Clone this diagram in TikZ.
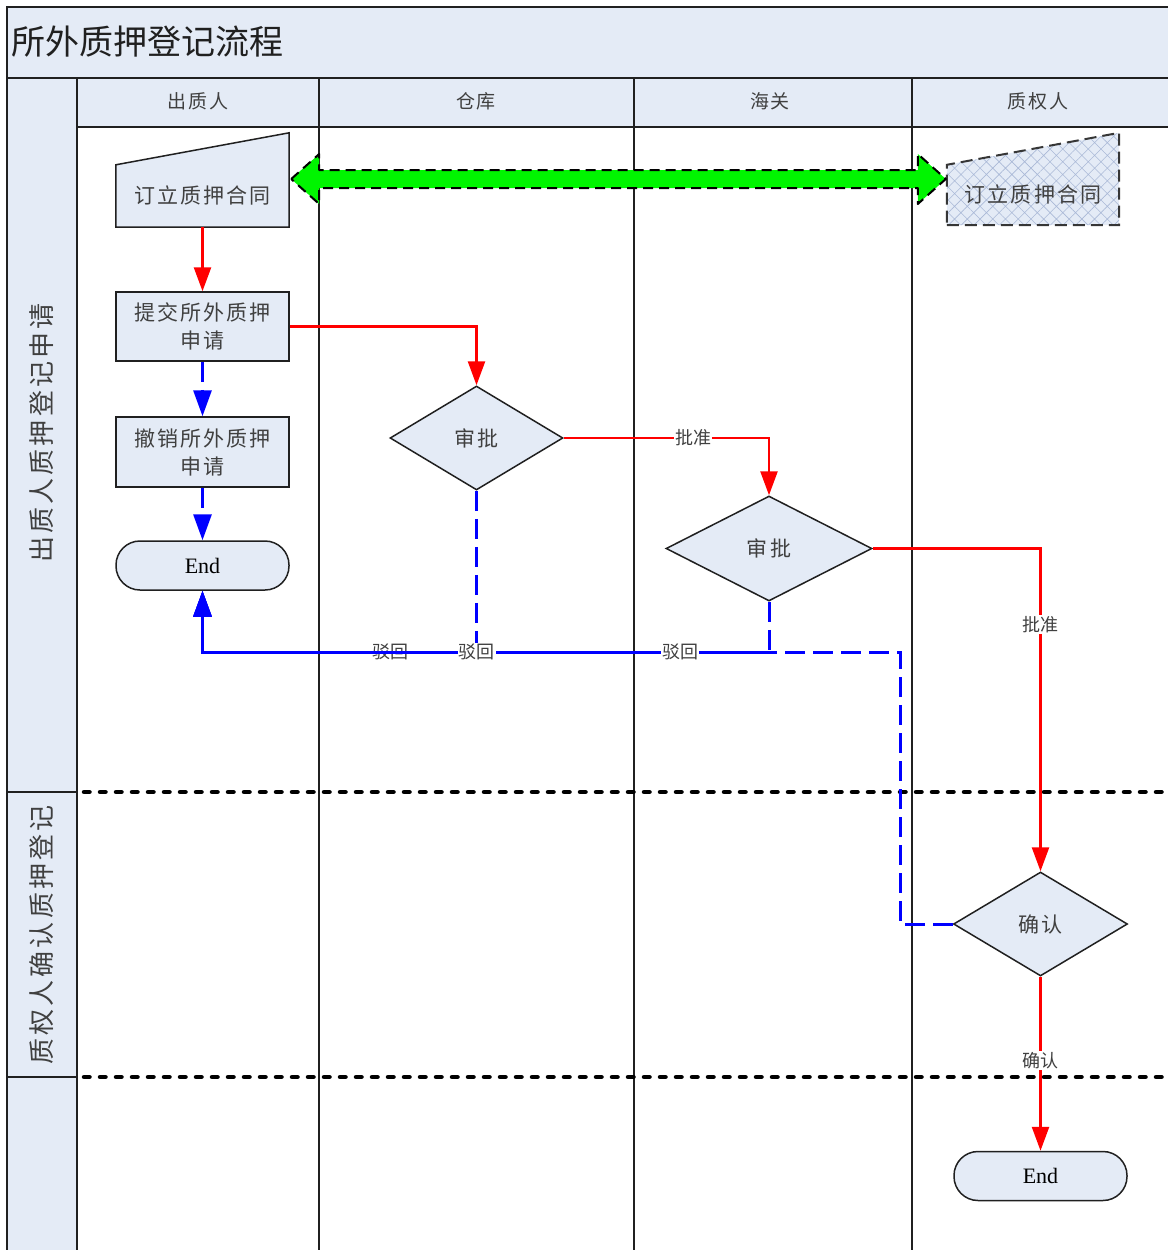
\documentclass[tikz,border=0pt]{standalone}
\usepackage{fontspec}
\setmainfont{Liberation Serif}
\newfontfamily\cjk{Noto Sans CJK SC}
\newfontfamily\cjkw{Noto Sans CJK SC}[LetterSpace=10]
\usetikzlibrary{shapes.geometric,arrows.meta,patterns.meta,calc}
\definecolor{lane}{RGB}{228,235,246}
\definecolor{txt}{RGB}{64,64,64}
\definecolor{frm}{RGB}{32,32,32}
\definecolor{grn}{RGB}{0,245,0}
\definecolor{hatch}{RGB}{170,185,215}
\begin{document}
\begin{tikzpicture}[x=1pt,y=-1pt,
  frame/.style={draw=frm,line width=2pt},
  phaseline/.style={draw=black,line width=4.5pt,dash pattern=on 5.5pt off 10.5pt,line cap=round},
  ntext/.style={text=txt,font=\cjkw\fontsize{21}{28}\selectfont,align=center,inner sep=0pt},
  box/.style={draw=frm,line width=1.5pt,fill=lane,minimum width=173pt,ntext},
  dec/.style={diamond,draw=frm,line width=1.5pt,fill=lane,inner sep=0pt,ntext},
  term/.style={draw=frm,line width=1.5pt,fill=lane,rounded corners=24pt,minimum width=173pt,
     minimum height=49pt,font=\fontsize{22}{26}\selectfont,text=black},
  ghost/.style={draw=none,inner sep=0pt},
  lbl/.style={fill=white,inner sep=1pt,text=txt,font=\cjk\fontsize{18}{20}\selectfont},
  redarr/.style={draw=red,line width=2.5pt,-{Triangle[length=24pt,width=17pt]}},
  bluearr/.style={draw=blue,line width=3pt,dash pattern=on 20pt off 8pt,
     -{Triangle[length=26pt,width=18pt]}},
  greenarr/.style={fill=grn,draw=black,line width=2pt,dash pattern=on 10pt off 6pt,line join=round},
  hdr/.style={text=txt,font=\cjkw\fontsize{19}{22}\selectfont,inner sep=0pt},
  phase/.style={text=txt,font=\cjk\addfontfeatures{LetterSpace=12}\fontsize{26}{28}\selectfont,rotate=90,inner sep=0pt}
]
\useasboundingbox (0,0) rectangle (1168,1250);
% backgrounds
\fill[lane] (7,7) rectangle (1168,78);
\fill[lane] (7,78) rectangle (77,1250);
\fill[lane] (77,78) rectangle (1168,127);
% frame lines
\draw[frame] (7,1250) -- (7,7) -- (1168,7);
\draw[frame] (7,78) -- (1168,78);
\draw[frame] (77,78) -- (77,1250);
\draw[frame] (77,127) -- (1168,127);
\foreach \x in {319,634,912} \draw[frame] (\x,78) -- (\x,1250);
\draw[frame] (7,792) -- (77,792);
\draw[frame] (7,1077) -- (77,1077);
\draw[phaseline] (84,792) -- (1168,792);
\draw[phaseline] (84,1077) -- (1168,1077);
% titles
\node[anchor=west,inner sep=0pt,text=frm,font=\cjk\fontsize{34}{38}\selectfont] (title) at (11,42) {所外质押登记流程};
\node[hdr] (h1) at (198,101) {出质人};
\node[hdr] (h2) at (476,101) {仓库};
\node[hdr] (h3) at (770,101) {海关};
\node[hdr] (h4) at (1038,101) {质权人};
\node[phase] (p1) at (42,433) {出质人质押登记申请};
\node[phase] (p2) at (42,935) {质权人确认质押登记};
% manual input 1
\node[ghost,minimum width=173pt,minimum height=94pt] (m1) at (202.5,180) {};
\draw[draw=frm,line width=1.5pt,fill=lane] (m1.south west) -- (m1.south east) -- (m1.north east)
   -- ($(m1.north west)+(0,32)$) -- cycle;
\node[ntext] (m1t) at ($(m1)+(0,15)$) {订立质押合同};
% manual input 2
\node[ghost,minimum width=172pt,minimum height=92pt] (m2) at (1033,179) {};
\path[preaction={fill=lane},pattern={Hatch[angle=45,distance=9pt,line width=0.6pt]},pattern color=hatch,
   draw=frm!90,line width=2pt,dash pattern=on 12pt off 6pt]
   (m2.south west) -- (m2.south east) -- (m2.north east) -- ($(m2.north west)+(0,32)$) -- cycle;
\node[ntext] (m2t) at ($(m2)+(0,15)$) {订立质押合同};
% boxes
\node[box,minimum height=69pt] (b2) at (202.5,326.5) {提交所外质押\\申请};
\node[box,minimum height=70pt] (b3) at (202.5,452) {撤销所外质押\\申请};
\node[term] (e1) at (202.5,565.5) {End};
\node[dec,minimum width=173pt,minimum height=104pt] (d1) at (476.5,438) {审批};
\node[dec,minimum width=206pt,minimum height=105pt] (d2) at (769,548.5) {审批};
\node[dec,minimum width=174pt,minimum height=104pt] (d3) at (1040.5,924) {确认};
\node[term] (e2) at (1040.5,1176) {End};
% green double arrow
\coordinate (gl) at ($(m1.east)+(2,-1)$);
\coordinate (gr) at ($(m2.west)+(-1,0)$);
\draw[greenarr] (gl) -- ++(28,-25) -- ++(0,16) -- ($(gr)+(-28,-9)$) -- ++(0,-16) -- (gr)
  -- ++(-28,25) -- ++(0,-16) -- ($(gl)+(28,9)$) -- ++(0,16) -- cycle;
% red flow
\draw[redarr] (m1.south) -- (b2.north);
\draw[redarr] (b2.east) -- (b2.east -| d1.north) -- (d1.north);
\draw[redarr] (d1.east) -- node[lbl,pos=0.63]{批准} (d1.east -| d2.north) -- (d2.north);
\draw[redarr] (d2.east) -- (d2.east -| d3.north) -- node[lbl,pos=0.235]{批准} (d3.north);
\draw[redarr] (d3.south) -- node[lbl,pos=0.48]{确认} (e2.north);
% blue flow
\draw[bluearr] (b2.south) -- (b3.north);
\draw[bluearr] (b3.south) -- (e1.north);
\coordinate (c1) at (476.5,652);
\coordinate (c2) at (769,652);
\coordinate (c3a) at (900,924);
\coordinate (c3b) at (900,652);
\coordinate (ce) at (202.5,652);
\draw[bluearr] (d3.west) -- (c3a) -- (c3b) -- node[lbl,pos=0.731]{驳回} (ce) -- (e1.south);
\draw[bluearr] (d2.south) -- (c2) -- node[lbl,pos=0.157]{驳回} (ce) -- (e1.south);
\draw[bluearr] (d1.south) -- (c1) node[lbl]{驳回} -- (ce) -- (e1.south);
\end{tikzpicture}
\end{document}
